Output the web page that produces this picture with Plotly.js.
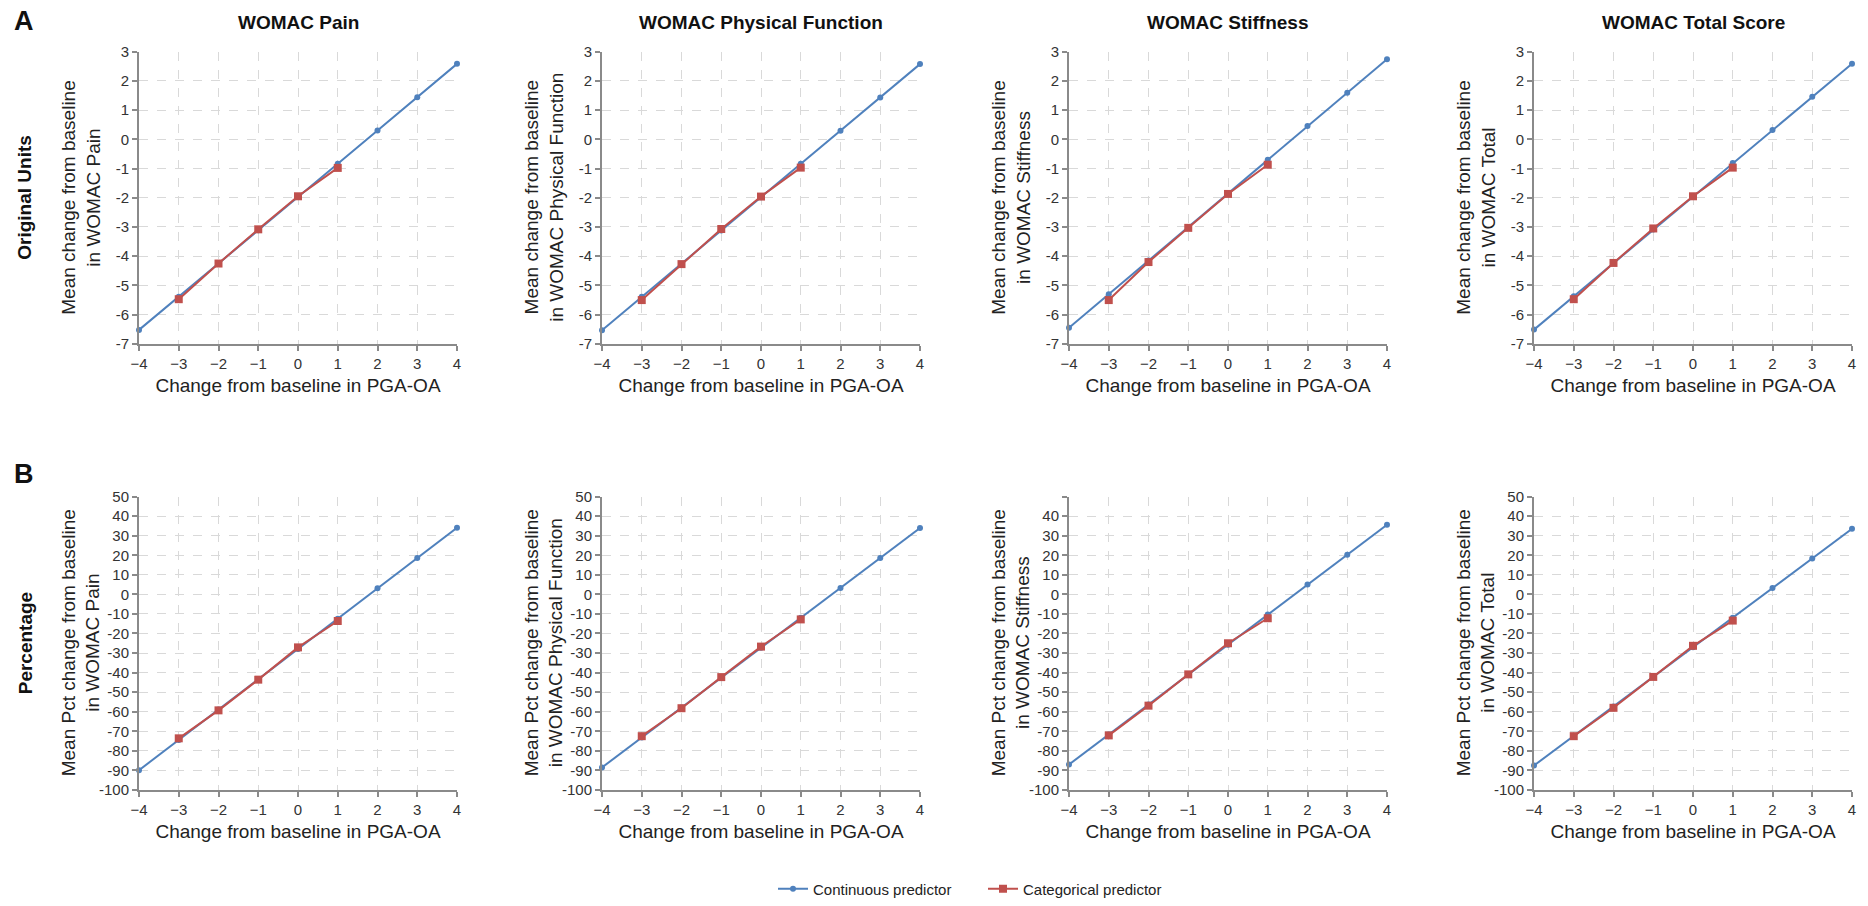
<!DOCTYPE html>
<html><head><meta charset="utf-8">
<script src="https://cdn.plot.ly/plotly-3.0.1.min.js"></script>
<style>html,body{margin:0;padding:0;background:#fff}#chart{width:1868px;height:906px}</style>
</head><body><div id="chart"></div>
<script>
// ---- data ----
const xCont = [-4, -3, -2, -1, 0, 1, 2, 3, 4];
const xCat = [-3, -2, -1, 0, 1];
const panelTitles = ['WOMAC Pain', 'WOMAC Physical Function', 'WOMAC Stiffness', 'WOMAC Total Score'];
const yTitlesA = ['Mean change from baseline<br>in WOMAC Pain', 'Mean change from baseline<br>in WOMAC Physical Function', 'Mean change from baseline<br>in WOMAC Stiffness', 'Mean change from baseline<br>in WOMAC Total'];
const yTitlesB = ['Mean Pct change from baseline<br>in WOMAC Pain', 'Mean Pct change from baseline<br>in WOMAC Physical Function', 'Mean Pct change from baseline<br>in WOMAC Stiffness', 'Mean Pct change from baseline<br>in WOMAC Total'];
const xTitle = 'Change from baseline in PGA-OA';
const rowLabels = ['Original Units', 'Percentage'];
const seriesNames = ['Continuous predictor', 'Categorical predictor'];

// Row A: original units
const contPainA = [-6.52, -5.39, -4.25, -3.11, -1.97, -0.84, 0.30, 1.44, 2.58];
const catPainA = [-5.47, -4.25, -3.08, -1.95, -0.98];
const contPhysA = [-6.53, -5.39, -4.26, -3.12, -1.98, -0.84, 0.29, 1.43, 2.57];
const catPhysA = [-5.50, -4.27, -3.07, -1.96, -0.97];
const contStiffA = [-6.45, -5.30, -4.15, -3.00, -1.85, -0.70, 0.45, 1.59, 2.74];
const catStiffA = [-5.50, -4.20, -3.03, -1.87, -0.87];
const contTotalA = [-6.51, -5.37, -4.23, -3.09, -1.95, -0.81, 0.32, 1.45, 2.58];
const catTotalA = [-5.47, -4.23, -3.05, -1.95, -0.97];

// Row B: percentage
const contPainB = [-89.9, -74.4, -58.9, -43.4, -27.9, -12.4, 3.1, 18.6, 34.1];
const catPainB = [-73.6, -59.3, -43.6, -27.1, -13.6];
const contPhysB = [-88.5, -73.2, -57.9, -42.6, -27.3, -12.0, 3.3, 18.6, 33.9];
const catPhysB = [-72.5, -58.2, -42.3, -26.7, -12.8];
const contStiffB = [-87.0, -71.7, -56.3, -41.0, -25.7, -10.3, 5.0, 20.3, 35.6];
const catStiffB = [-72.1, -56.9, -40.9, -25.0, -12.2];
const contTotalB = [-87.5, -72.4, -57.3, -42.1, -27.0, -11.9, 3.3, 18.4, 33.5];
const catTotalB = [-72.5, -58.0, -42.2, -26.3, -13.4];

const yTicksA = [-7, -6, -5, -4, -3, -2, -1, 0, 1, 2, 3];
const yTicksB = [-100, -90, -80, -70, -60, -50, -40, -30, -20, -10, 0, 10, 20, 30, 40, 50];
const xTicks = [-4, -3, -2, -1, 0, 1, 2, 3, 4];

// ---- build ----
const W = 1868, H = 906;
const FONT = 'Arial, "Liberation Sans", sans-serif';
const BLUE = '#4F81BD', RED = '#C0504D';
const axisLeftPx = [139, 602, 1069, 1534];
const plotWPx = 318;
const rowPx = [[52, 347], [501, 797]];

const contSets = [[contPainA, contPhysA, contStiffA, contTotalA], [contPainB, contPhysB, contStiffB, contTotalB]];
const catSets = [[catPainA, catPhysA, catStiffA, catTotalA], [catPainB, catPhysB, catStiffB, catTotalB]];

const traces = [];
const layout = {
  width: W, height: H,
  margin: {l: 0, r: 0, t: 0, b: 0},
  paper_bgcolor: '#fff', plot_bgcolor: '#fff',
  font: {family: FONT, color: '#222'},
  showlegend: true,
  legend: {orientation: 'h', x: 773 / W, xanchor: 'left', y: 1 - 897 / H, yanchor: 'middle',
           entrywidth: 165, entrywidthmode: 'pixels',
           font: {size: 15, family: FONT, color: '#222'}, bgcolor: 'rgba(0,0,0,0)'},
  annotations: []
};

for (let r = 0; r < 2; r++) {
  for (let c = 0; c < 4; c++) {
    const idx = r * 4 + c + 1;
    const xa = 'x' + (idx === 1 ? '' : idx);
    const ya = 'y' + (idx === 1 ? '' : idx);
    const show = (idx === 1);
    traces.push({
      x: xCont, y: contSets[r][c], xaxis: xa, yaxis: ya, type: 'scatter', mode: 'lines+markers',
      name: seriesNames[0], legendgroup: 'cont', showlegend: show, cliponaxis: false,
      line: {color: BLUE, width: 2}, marker: {color: BLUE, size: 6, symbol: 'circle'}
    });
    traces.push({
      x: xCat, y: catSets[r][c], xaxis: xa, yaxis: ya, type: 'scatter', mode: 'lines+markers',
      name: seriesNames[1], legendgroup: 'cat', showlegend: show, cliponaxis: false,
      line: {color: RED, width: 2}, marker: {color: RED, size: 8, symbol: 'square'}
    });
    const x0 = axisLeftPx[c] / W, x1 = (axisLeftPx[c] + plotWPx) / W;
    const y0 = 1 - rowPx[r][1] / H, y1 = 1 - rowPx[r][0] / H;
    const common = {
      showline: true, linecolor: '#8a8a8a', linewidth: 2,
      ticks: 'outside', ticklen: 5, tickwidth: 2, tickcolor: '#8a8a8a',
      showgrid: true, gridcolor: '#d9d9d9', griddash: 'dash', gridwidth: 1,
      zeroline: false, tickfont: {size: 15, family: FONT, color: '#333'}
    };
    layout['xaxis' + (idx === 1 ? '' : idx)] = Object.assign({}, common, {
      domain: [x0, x1], anchor: ya, range: [-4, 4], tickmode: 'array', tickvals: xTicks,
      title: {text: xTitle, font: {size: 19, family: FONT, color: '#222'}, standoff: 8}
    });
    let tv = r === 0 ? yTicksA : yTicksB;
    let tt = tv.map(v => String(v));
    if (r === 1 && c === 2) tt = tv.map(v => v === 50 ? '' : String(v));
    layout['yaxis' + (idx === 1 ? '' : idx)] = Object.assign({}, common, {
      domain: [y0, y1], anchor: xa, range: r === 0 ? [-7, 3] : [-100, 50],
      tickmode: 'array', tickvals: tv, ticktext: tt
    });
    // y-axis title as annotation
    layout.annotations.push({
      xref: 'paper', yref: 'paper', x: (axisLeftPx[c] - 58) / W, y: (y0 + y1) / 2,
      xanchor: 'center', yanchor: 'middle', textangle: -90, showarrow: false,
      text: r === 0 ? yTitlesA[c] : yTitlesB[c], font: {size: 19, family: FONT, color: '#222'}
    });
    if (r === 0) {
      layout.annotations.push({
        xref: 'paper', yref: 'paper', x: (axisLeftPx[c] + plotWPx / 2) / W, y: 1 - 23 / H,
        xanchor: 'center', yanchor: 'middle', showarrow: false,
        text: '<b>' + panelTitles[c] + '</b>', font: {size: 19, family: FONT, color: '#111'}
      });
    }
  }
}
// row labels and panel letters
layout.annotations.push({xref: 'paper', yref: 'paper', x: 25 / W, y: 1 - 199.5 / H, xanchor: 'center', yanchor: 'middle',
  textangle: -90, showarrow: false, text: '<b>' + rowLabels[0] + '</b>', font: {size: 19, family: FONT, color: '#111'}});
layout.annotations.push({xref: 'paper', yref: 'paper', x: 25 / W, y: 1 - 649 / H, xanchor: 'center', yanchor: 'middle',
  textangle: -90, showarrow: false, text: '<b>' + rowLabels[1] + '</b>', font: {size: 19, family: FONT, color: '#111'}});
layout.annotations.push({xref: 'paper', yref: 'paper', x: 24 / W, y: 1 - 21 / H, xanchor: 'center', yanchor: 'middle',
  showarrow: false, text: '<b>A</b>', font: {size: 27, family: FONT, color: '#111'}});
layout.annotations.push({xref: 'paper', yref: 'paper', x: 24 / W, y: 1 - 478 / H, xanchor: 'center', yanchor: 'middle',
  showarrow: false, text: '<b>B</b>', font: {size: 27, family: FONT, color: '#111'}});

Plotly.newPlot('chart', traces, layout, {displayModeBar: false, staticPlot: true});
</script>
</body></html>
